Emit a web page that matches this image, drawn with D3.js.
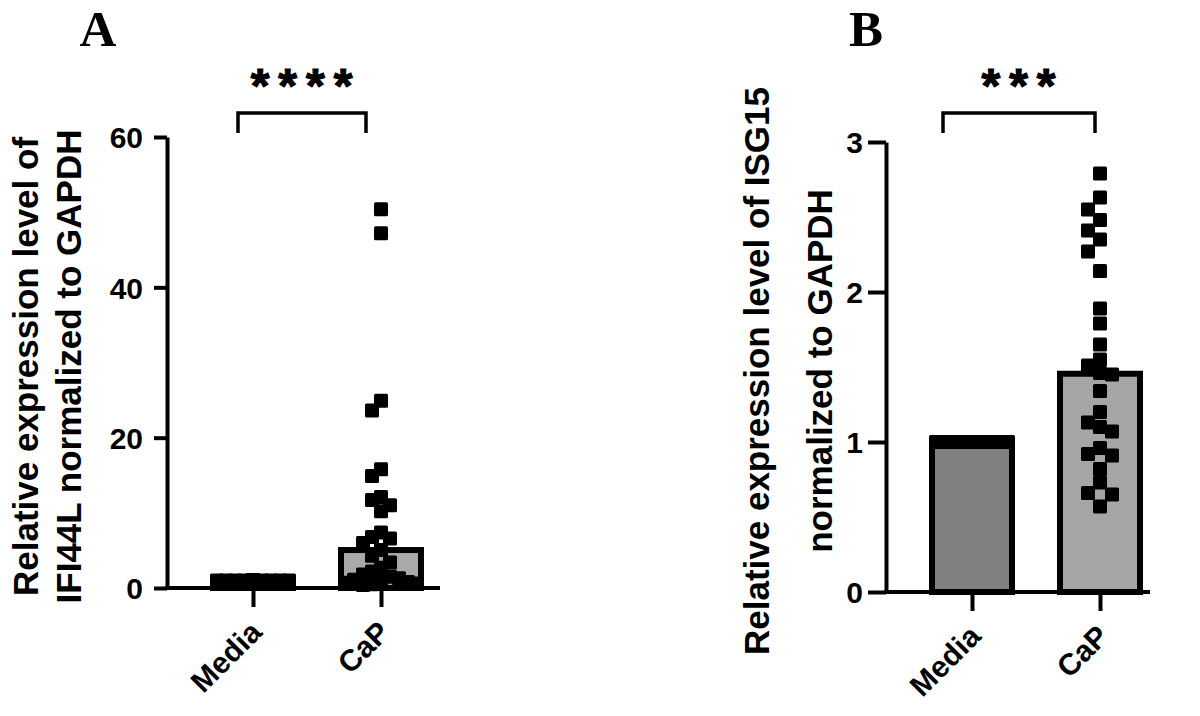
<!DOCTYPE html>
<html>
<head>
<meta charset="utf-8">
<script src="https://cdn.jsdelivr.net/npm/d3@7"></script>
<style>
  body { margin: 0; background: #fff; }
  text { font-family: "Liberation Sans", Arial, sans-serif; font-weight: bold; fill: #000; }
</style>
</head>
<body>
<div class="main-container"></div>
<script>
const categories = ["Media", "CaP"];

// panel A: IFI44L
const ifi44lTicks = [0, 20, 40, 60];
const ifi44lMedia = [1, 1, 1, 1, 1, 1, 1, 1, 1, 1, 1, 1, 1, 1, 1, 1, 1, 1, 1, 1, 1, 1, 1, 1, 1, 1, 1, 1, 1];
const ifi44lCaP = [50.4, 47.2, 24.9, 23.6, 15.8, 14.9, 12.1, 11.7, 11.0, 10.2, 7.4, 6.8, 6.6, 6.0, 5.05,
  4.3, 3.4, 2.7, 2.2, 1.8, 1.5, 1.3, 1.1, 0.9, 0.8, 0.7, 0.6, 0.5, 0.4];

// panel B: ISG15
const isg15Ticks = [0, 1, 2, 3];
const isg15Media = [1, 1, 1, 1, 1, 1, 1, 1, 1, 1, 1, 1, 1, 1, 1, 1, 1, 1, 1, 1, 1, 1, 1, 1, 1, 1, 1, 1];
const isg15CaP = [2.79, 2.63, 2.55, 2.48, 2.41, 2.35, 2.27, 2.14, 1.89, 1.79, 1.65, 1.55, 1.51, 1.46,
  1.45, 1.34, 1.20, 1.13, 1.10, 1.07, 0.96, 0.92, 0.91, 0.82, 0.73, 0.66, 0.65, 0.57];

const panels = [
  {letter: "A", letterX: 98, stars: "****", max: 60, ticks: ifi44lTicks,
    values: {Media: ifi44lMedia, CaP: ifi44lCaP},
    label: ["Relative expression level of", "IFI44L normalized to GAPDH"], labelX: [38, 81],
    left: 167, bottom: 588, top: 137, right: 440, tickFont: 30, tickSize: 13, tickPad: 11,
    fill: {Media: "#808080", CaP: "#a9a9ac"}, step: 9, bracket: [-15, -15]},
  {letter: "B", letterX: 866, stars: "***", max: 3, ticks: isg15Ticks,
    values: {Media: isg15Media, CaP: isg15CaP},
    label: ["Relative expression level of ISG15", "normalized to GAPDH"], labelX: [769, 832],
    left: 886, bottom: 592, top: 142, right: 1150, tickFont: 30, tickSize: 18, tickPad: 5,
    fill: {Media: "#808080", CaP: "#a6a6a9"}, step: 12, bracket: [-29, -5]}
];

const svg = d3.select(".main-container")
  .append("svg")
  .attr("width", 1200)
  .attr("height", 716);

const barWidth = 80,
  dot = 14,
  maxOff = 36;

// simple column-style beeswarm: same-column points closer than h px get pushed sideways
function swarm(values, cx, y, step, h) {
  const placed = [];
  const offs = [0];
  for (let k = 1; k * step <= maxOff; k++) offs.push(-k * step, k * step);
  values.slice().sort((a, b) => b - a).forEach(v => {
    const py = y(v);
    let best = null, bestGap = -1;
    for (const o of offs) {
      const near = placed.filter(p => Math.abs(p.o - o) < step - 0.5);
      const gap = near.length ? d3.min(near, p => Math.abs(p.y - py)) : Infinity;
      if (gap >= h) { best = o; break; }
      if (gap > bestGap) { bestGap = gap; best = o; }
    }
    placed.push({v: v, o: best, x: cx + best, y: py});
  });
  return placed;
}

panels.forEach(p => {
  const g = svg.append("g");

  const y = d3.scaleLinear()
    .domain([0, p.max])
    .range([p.bottom, p.top]);

  const x = d3.scalePoint()
    .domain(categories)
    .range([p.left + 86, p.left + 214]);

  // bars at the median
  categories.forEach(c => {
    const m = d3.median(p.values[c]);
    g.append("rect")
      .attr("x", x(c) - barWidth / 2)
      .attr("y", y(m))
      .attr("width", barWidth)
      .attr("height", y(0) - y(m))
      .attr("fill", p.fill[c])
      .attr("stroke", "#000")
      .attr("stroke-width", 6);
  });

  // points
  categories.forEach(c => {
    g.append("g")
      .selectAll("rect")
      .data(swarm(p.values[c], x(c), y, p.step, 13))
      .join("rect")
      .attr("x", d => d.x - dot / 2)
      .attr("y", d => d.y - dot / 2)
      .attr("width", dot)
      .attr("height", dot)
      .attr("rx", 1.5)
      .attr("fill", "#000");
  });

  // y axis
  const ya = g.append("g")
    .attr("transform", "translate(" + p.left + ",0)")
    .call(d3.axisLeft(y).tickValues(p.ticks).tickFormat(d3.format("d"))
      .tickSize(p.tickSize).tickSizeOuter(0).tickPadding(p.tickPad));
  ya.select(".domain").attr("stroke-width", 4);
  ya.selectAll(".tick line").attr("stroke-width", 4);
  ya.selectAll(".tick text")
    .style("font-size", p.tickFont + "px")
    .attr("dy", "0.36em");

  // x axis
  g.append("line")
    .attr("x1", p.left - 2)
    .attr("x2", p.right)
    .attr("y1", p.bottom)
    .attr("y2", p.bottom)
    .attr("stroke", "#000")
    .attr("stroke-width", 4);
  const xa = g.append("g")
    .attr("transform", "translate(0," + p.bottom + ")")
    .call(d3.axisBottom(x).tickSize(19).tickSizeOuter(0));
  xa.select(".domain").remove();
  xa.selectAll(".tick line").attr("stroke-width", 4);
  xa.selectAll(".tick text")
    .style("font-size", "30px")
    .attr("text-anchor", "end")
    .attr("dy", 0)
    .attr("y", 0)
    .attr("transform", "translate(10,46)rotate(-45)");

  // y label
  p.label.forEach((t, i) => {
    g.append("text")
      .attr("transform", "translate(" + p.labelX[i] + "," + ((p.top + p.bottom) / 2 + 4) + ")rotate(-90)")
      .attr("text-anchor", "middle")
      .style("font-size", "35px")
      .text(t);
  });

  // significance bracket
  const bx1 = x("Media") + p.bracket[0],
    bx2 = x("CaP") + p.bracket[1];
  g.append("path")
    .attr("d", "M" + bx1 + ",133V113H" + bx2 + "V133")
    .attr("fill", "none")
    .attr("stroke", "#000")
    .attr("stroke-width", 3.5);
  g.append("text")
    .attr("x", (bx1 + bx2) / 2 + 4)
    .attr("y", 102)
    .attr("text-anchor", "middle")
    .style("font-size", "48px")
    .style("letter-spacing", "9px")
    .style("stroke", "#000")
    .style("stroke-width", 1.2)
    .text(p.stars);

  // panel letter
  g.append("text")
    .attr("x", p.letterX)
    .attr("y", 46)
    .attr("text-anchor", "middle")
    .style("font-family", "'Liberation Serif', 'Times New Roman', serif")
    .style("font-size", "51px")
    .text(p.letter);
});
</script>
</body>
</html>
